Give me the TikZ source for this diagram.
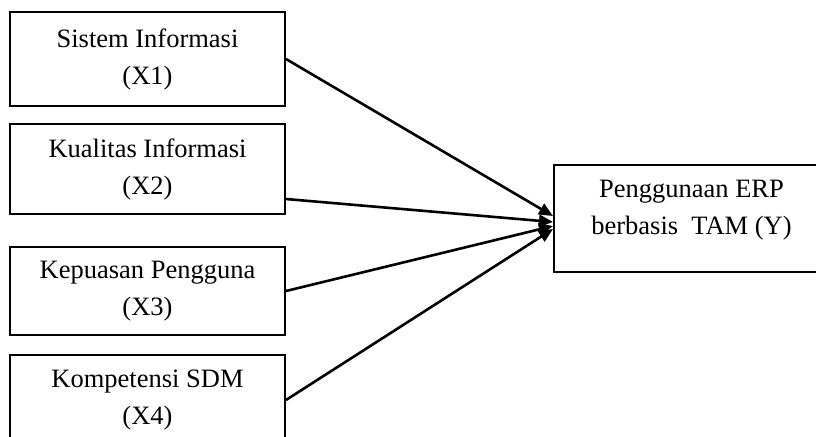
\documentclass[tikz,border=0pt]{standalone}
\usepackage{fontspec}
\setmainfont{Liberation Serif}
\usetikzlibrary{arrows.meta, calc}
\tikzset{%
  var/.style={draw, line width=1pt, minimum width=137.5pt, minimum height=45pt,
              align=center, inner sep=0pt, font=\fontsize{13.25}{18.5}\selectfont},
  link/.style={-{Triangle[length=7pt, width=6pt]}, line width=1.3pt},
}

\begin{document}
\begin{tikzpicture}[x=0.5pt, y=-0.5pt]
    \useasboundingbox (0,0) rectangle (816,436);

    %independent variables
    \node[var, minimum height=47pt] (x1) at (147.5,59) {Sistem Informasi\\(X1)};
    \node[var] (x2) at (147.5,169) {Kualitas Informasi\\(X2)};
    \node[var, minimum height=44pt] (x3) at (147.5,291) {Kepuasan Pengguna\\(X3)};
    \node[var] (x4) at (147.5,400) {Kompetensi SDM\\(X4)};

    %dependent variable
    \node[var, minimum height=53.5pt, text depth=11pt] (y) at (691.5,218.5) {Penggunaan ERP\\berbasis\ \ TAM (Y)};

    \coordinate (s2) at ($(x2.east)+(0,30)$);
    \coordinate (t1) at ($(y.west)+(0,-2.5)$);
    \coordinate (t2) at ($(y.west)+(0,3.5)$);
    \coordinate (t3) at ($(y.west)+(0,7.5)$);
    \coordinate (t4) at ($(y.west)+(0,10.5)$);

    %arrows into Y
    \draw[link] (x1.east) -- (t1);
    \draw[link] (s2) -- (t2);
    \draw[link] (x3.east) -- (t3);
    \draw[link] (x4.east) -- (t4);

\end{tikzpicture}
\end{document}
